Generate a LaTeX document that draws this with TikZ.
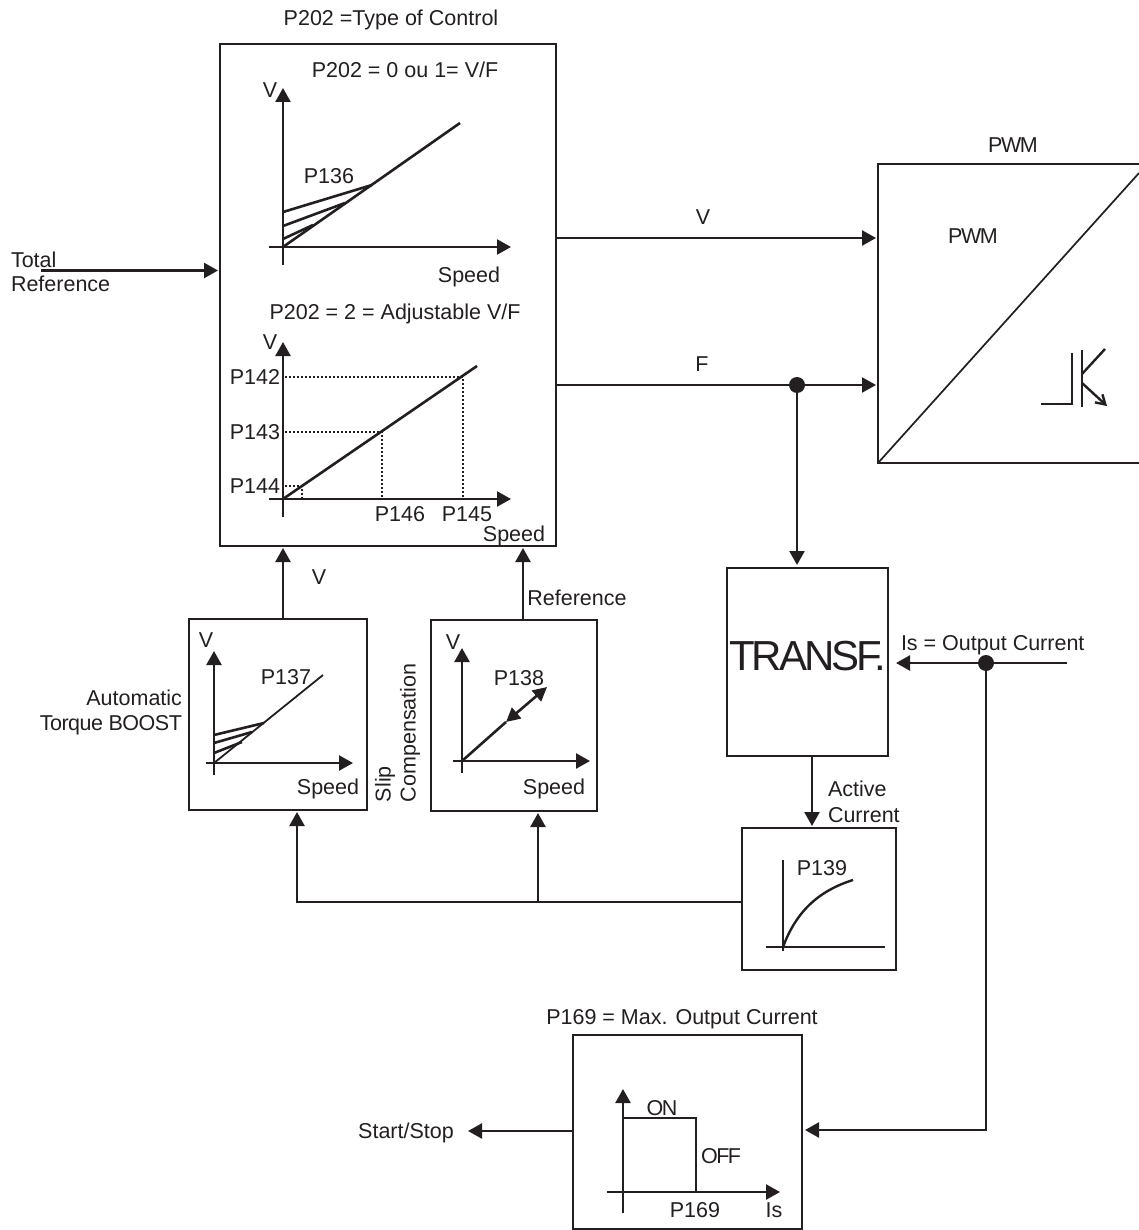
\documentclass[tikz,border=0pt]{standalone}
\usepackage{fontspec}
\setmainfont{Liberation Sans}
\newfontfamily\tightfont[LetterSpace=-7]{Liberation Sans}
\newfontfamily\slimfont[LetterSpace=-2.2]{Liberation Sans}
\newfontfamily\tighterfont[LetterSpace=-7.3]{Liberation Sans}
\usetikzlibrary{arrows.meta,calc}
\definecolor{ink}{HTML}{231F20}
\tikzset{
  box/.style={draw=ink,line width=2.3pt,rectangle,inner sep=0pt,outer sep=0pt},
  ghost/.style={rectangle,inner sep=0pt,outer sep=0pt},
  lbl/.style={inner sep=0pt,outer sep=0pt,text=ink,text height=15.5pt,text depth=0pt,font=\fontsize{21.5}{24}\selectfont},
  rlbl/.style={inner sep=0pt,outer sep=0pt,text=ink,rotate=90,anchor=west,font=\fontsize{21.5}{24}\selectfont},
  tlbl/.style={lbl,font=\fontsize{21.5}{24}\selectfont\tightfont},
  link/.style={draw=ink,line width=2.4pt,-{Triangle[length=14pt,width=15pt]}},
  wire/.style={draw=ink,line width=2.4pt},
  axis/.style={draw=ink,line width=2.4pt,-{Triangle[length=14pt,width=15pt]}},
  curve/.style={draw=ink,line width=2.6pt},
  dots/.style={draw=ink,line width=1.5pt,dash pattern=on 2pt off 2pt},
  dot/.style={circle,fill=ink,inner sep=0pt,outer sep=0pt,minimum size=16pt},
}
\begin{document}
\begin{tikzpicture}[x=1pt,y=-1pt]
\useasboundingbox (0,0) rectangle (1139,1230);
% boxes
\node[box,minimum width=336pt,minimum height=502pt] (main) at (388,295) {};
\node[ghost,minimum width=261pt,minimum height=299pt] (pwm) at (1008.5,313.5) {};
\draw[wire] (pwm.north east) -- (pwm.north west) -- (pwm.south west) -- (pwm.south east);
\draw[draw=ink,line width=1.7pt] (pwm.south west) -- ($(pwm.north east)+(0,9)$);
\node[box,minimum width=161pt,minimum height=188pt] (transf) at (807.5,662) {};
\node[inner sep=0pt,outer sep=0pt,text=ink,font=\fontsize{42}{46}\selectfont\tighterfont] (ttransf) at (807.5,656) {TRANSF.};
\node[box,minimum width=178pt,minimum height=191pt] (boost) at (278,714.5) {};
\node[box,minimum width=166pt,minimum height=191pt] (slip) at (514,715.5) {};
\node[box,minimum width=154pt,minimum height=142pt] (gain) at (819,899) {};
\node[box,minimum width=229pt,minimum height=194pt] (limit) at (687.5,1132) {};
% ports
\coordinate (totalstart) at (41,270.5);
\coordinate (vport) at (0,238);
\coordinate (fport) at (0,385);
\coordinate (isstart) at (1067,663);
\coordinate (isjoin) at (986,663);
\coordinate (busjoin) at (538,902);
\coordinate (buscorner) at (297,902);
\coordinate (startstop) at (468,1131);
\coordinate (limitport) at (986,1130);
\node[dot] (fdot) at (797,385) {};
\node[dot] (isdot) at (isjoin) {};
% connectors
\draw[link,shorten >=2pt] (totalstart) -- (main.west |- totalstart);
\draw[link,shorten >=2pt] (main.east |- vport) -- (pwm.west |- vport);
\draw[link,shorten >=2pt] (main.east |- fport) -- (pwm.west |- fport);
\draw[link,shorten >=3pt] (fdot) -- (transf.north -| fdot);
\draw[link,shorten >=8pt] (isstart) -- (transf.east |- isstart);
\draw[link,shorten >=3pt] (isdot) |- (limit.east |- limitport);
\draw[link,shorten >=2pt] (transf.south -| 812,0) -- (gain.north -| 812,0);
\draw[link,shorten >=2pt] (gain.west |- busjoin) -- (buscorner) -- (boost.south -| buscorner);
\draw[link,shorten >=2pt] (busjoin) -- (slip.south -| busjoin);
\draw[link,shorten >=2pt] (boost.north -| 283,0) -- (main.south -| 283,0);
\draw[link,shorten >=2pt] (slip.north -| 523,0) -- (main.south -| 523,0);
\draw[link] (limit.west |- startstop) -- (startstop);
% outer labels
\node[lbl] (t202) at (391,18) {P202 =Type of Control};
\node[lbl,anchor=west] (ttotal) at (11,260) {Total};
\node[lbl,anchor=west] (tref) at (11,284) {Reference};
\node[tlbl] (tpwm1) at (1013,145) {PWM};
\node[tlbl] (tpwm2) at (973,236) {PWM};
\node[lbl] (tv) at (703,217) {V};
\node[lbl] (tf) at (702,364) {F};
\node[lbl] (tv2) at (319,577) {V};
\node[lbl] (treff) at (577,598) {Reference};
\node[lbl,anchor=west] (tis) at (901,643) {Is = Output Current};
\node[lbl,anchor=east] (ta1) at (182,698) {Automatic};
\node[lbl,anchor=east,font=\fontsize{21.5}{24}\selectfont\slimfont] (ta2) at (182,723) {Torque BOOST};
\node[rlbl] (ts1) at (385,802) {Slip};
\node[rlbl] (ts2) at (410,802) {Compensation};
\node[lbl,anchor=west] (tac1) at (828,789) {Active};
\node[lbl,anchor=west] (tac2) at (828,815) {Current};
\node[lbl] (t169) at (682,1017) {P169 = Max. Output Current};
\node[lbl] (tss) at (406,1131) {Start/Stop};
% IGBT symbol
\draw[wire] (1041,404) -- (1072,404) -- (1072,353);
\draw[wire] (1082,350) -- (1082,407);
\draw[wire] (1082,374) -- (1105,349);
\draw[draw=ink,line width=2.4pt,-{Straight Barb[length=9pt,width=11pt]}] (1082,383) -- (1107,406);
% graph 1
\node[lbl] (g1t) at (405,70) {P202 = 0 ou 1= V/F};
\draw[axis] (283,265) -- (283,88);
\draw[axis] (269,247) -- (511,247);
\draw[curve] (283,212) -- (372,185);
\draw[curve] (283,226) -- (345,203);
\draw[curve] (283,239) -- (313,225);
\draw[curve] (283,247) -- (460,123);
\node[lbl] (g1v) at (270,90) {V};
\node[lbl] (g1p) at (329,176) {P136};
\node[lbl] (g1s) at (469,275) {Speed};
% graph 2
\node[lbl] (g2t) at (395,312) {P202 = 2 = Adjustable V/F};
\draw[axis] (283,517) -- (283,342);
\draw[axis] (269,499) -- (511,499);
\draw[curve] (283,499) -- (477,366);
\draw[dots] (285,377) -- (463,377) -- (463,498);
\draw[dots] (285,432) -- (382,432) -- (382,498);
\draw[dots] (285,486) -- (302,486) -- (302,498);
\node[lbl] (g2v) at (270,342) {V};
\node[lbl] (g2a) at (255,377) {P142};
\node[lbl] (g2b) at (255,432) {P143};
\node[lbl] (g2c) at (255,486) {P144};
\node[lbl] (g2d) at (400,514) {P146};
\node[lbl] (g2e) at (467,514) {P145};
\node[lbl] (g2s) at (514,534) {Speed};
% graph boost
\draw[axis] (214,775) -- (214,651);
\draw[axis] (206,763) -- (353,763);
\draw[curve] (214,735) -- (264,723);
\draw[curve] (214,743) -- (252,732);
\draw[curve] (214,753) -- (242,742);
\draw[draw=ink,line width=1.8pt] (214,763) -- (323,675);
\node[lbl] (g3v) at (206,640) {V};
\node[lbl] (g3p) at (286,677) {P137};
\node[lbl] (g3s) at (328,787) {Speed};
% graph slip
\draw[axis] (462,773) -- (462,648);
\draw[axis] (453,761) -- (590,761);
\draw[curve] (462,761) -- (506,722);
\draw[draw=ink,line width=2.6pt,{Triangle[length=14pt,width=14pt]}-{Triangle[length=14pt,width=14pt]}] (506,722) -- (547,687);
\node[lbl] (g4v) at (453,642) {V};
\node[lbl] (g4p) at (519,678) {P138};
\node[lbl] (g4s) at (554,787) {Speed};
% graph gain
\draw[wire] (783,860) -- (783,951);
\draw[wire] (766,947) -- (885,947);
\draw[wire] (783,947) .. controls (796,912) and (818,891) .. (853,880);
\node[lbl] (g5p) at (822,868) {P139};
% graph limit
\draw[axis] (623,1213) -- (623,1089);
\draw[axis] (607,1192) -- (780,1192);
\draw[draw=ink,line width=2.8pt] (623,1118) -- (696,1118) -- (696,1192);
\node[tlbl] (g6a) at (662,1108) {ON};
\node[tlbl] (g6b) at (721,1156) {OFF};
\node[lbl] (g6c) at (695,1210) {P169};
\node[lbl] (g6d) at (774,1210) {Is};
\end{tikzpicture}
\end{document}
